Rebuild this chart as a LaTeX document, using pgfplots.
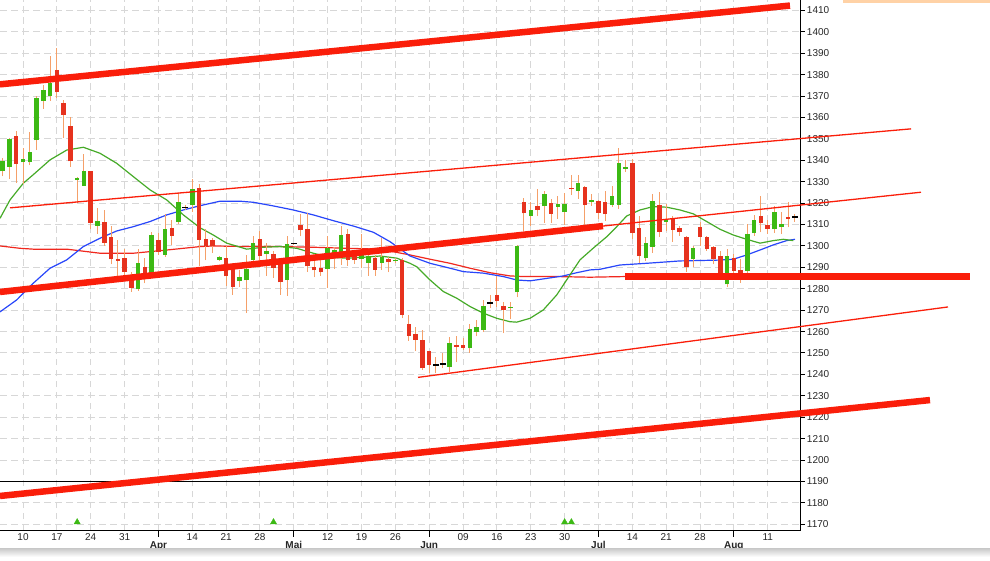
\documentclass[border=0pt]{standalone}
\usepackage{pgfplots}
\pgfplotsset{compat=1.18}
\usepackage{pgfplotstable}
\usepackage{fontspec}
\setmainfont{Liberation Sans}
\definecolor{cgreen}{RGB}{60,185,20}
\definecolor{cred}{RGB}{230,50,30}
\definecolor{cwick}{RGB}{245,160,105}
\definecolor{tline}{RGB}{250,30,10}
\definecolor{magreen}{RGB}{70,170,40}
\definecolor{mablue}{RGB}{40,70,250}
\definecolor{mared}{RGB}{240,40,30}
\definecolor{gridc}{RGB}{215,215,215}

\pgfplotstableread{
x o h l c
-3 1334.8 1341.0 1332.5 1339.5
-2 1337.1 1350.3 1331.2 1350.1
0 1339.0 1345.7 1329.0 1340.7
1 1339.0 1353.0 1337.6 1344.0
2 1349.3 1370.0 1344.9 1369.3
3 1367.6 1375.4 1364.0 1373.0
4 1370.2 1388.6 1367.9 1376.1
8 1331.0 1332.0 1320.0 1331.8
9 1328.2 1343.1 1328.2 1335.1
11 1309.5 1317.9 1305.6 1311.7
17 1279.7 1298.6 1279.0 1292.0
19 1287.2 1306.7 1286.5 1305.1
21 1295.8 1315.0 1295.0 1308.0
23 1311.4 1324.6 1310.3 1320.3
25 1318.9 1331.2 1316.0 1326.7
29 1293.6 1295.5 1293.0 1294.8
32 1283.4 1288.9 1281.0 1285.3
33 1283.9 1296.0 1268.6 1289.4
34 1293.6 1304.8 1290.5 1301.4
36 1296.3 1301.4 1286.0 1297.8
39 1284.2 1304.8 1276.7 1301.0
45 1289.4 1304.5 1280.3 1299.0
46 1294.4 1299.5 1289.2 1298.3
47 1294.4 1309.5 1291.2 1305.3
50 1293.9 1305.8 1289.5 1295.9
51 1292.0 1296.0 1286.0 1295.5
53 1292.0 1303.8 1288.9 1294.8
55 1292.8 1294.5 1292.0 1293.6
63 1243.6 1257.3 1241.3 1254.5
66 1252.2 1263.6 1250.2 1261.1
67 1260.0 1265.5 1257.7 1262.0
68 1260.8 1274.8 1259.7 1272.0
72 1271.0 1274.0 1265.9 1271.7
73 1278.3 1300.6 1276.0 1300.2
75 1313.9 1320.5 1309.5 1316.6
77 1318.6 1325.6 1310.8 1324.5
79 1318.3 1323.3 1312.7 1319.4
80 1315.8 1324.8 1310.0 1319.4
82 1325.6 1333.0 1322.0 1329.2
84 1320.3 1324.3 1318.8 1321.5
87 1319.3 1328.2 1318.1 1323.2
88 1319.3 1345.8 1317.3 1338.9
89 1336.1 1340.0 1334.5 1336.9
92 1294.2 1304.4 1293.0 1301.6
93 1299.7 1324.3 1296.9 1320.9
95 1311.3 1319.6 1307.1 1312.6
99 1293.8 1300.0 1290.2 1298.9
104 1282.0 1298.5 1280.8 1295.3
107 1288.3 1310.2 1287.5 1305.5
108 1306.0 1314.5 1304.7 1312.1
111 1307.9 1318.5 1306.0 1316.0
112 1308.7 1315.7 1305.5 1310.2
}\greentab

\pgfplotstableread{
x o h l c
-1 1351.5 1353.5 1329.6 1338.4
5 1382.4 1392.5 1369.1 1371.8
6 1366.9 1368.3 1350.4 1361.3
7 1356.2 1360.2 1337.1 1339.5
10 1335.1 1335.1 1307.8 1310.9
12 1311.2 1316.8 1300.0 1301.6
13 1304.1 1309.5 1291.4 1293.9
14 1294.1 1302.8 1285.6 1293.2
15 1294.4 1298.6 1283.8 1287.8
16 1286.3 1288.0 1278.6 1280.5
18 1290.2 1294.4 1282.5 1284.6
20 1302.8 1305.9 1295.8 1297.3
22 1308.4 1312.2 1300.5 1304.7
26 1326.9 1328.8 1290.5 1303.0
27 1303.4 1307.7 1293.3 1300.2
28 1303.0 1303.5 1296.7 1300.2
30 1294.4 1300.2 1281.4 1285.8
31 1291.6 1292.0 1277.2 1280.6
35 1303.4 1306.9 1290.5 1295.2
37 1296.3 1297.8 1285.0 1289.7
38 1293.9 1294.2 1277.2 1283.0
41 1310.0 1314.7 1304.5 1307.3
42 1308.0 1315.5 1288.0 1290.5
43 1290.0 1293.6 1285.3 1288.6
44 1289.7 1293.6 1286.1 1287.7
48 1305.8 1307.7 1290.8 1293.3
49 1295.2 1296.7 1291.7 1293.3
52 1294.4 1296.0 1286.0 1288.9
54 1293.9 1295.0 1287.7 1292.3
56 1293.3 1294.4 1266.2 1267.8
57 1263.6 1267.8 1255.8 1258.1
58 1258.9 1262.3 1250.9 1256.1
59 1256.1 1260.8 1242.0 1242.8
60 1250.9 1251.0 1240.5 1244.4
64 1253.8 1258.1 1245.9 1252.8
65 1253.8 1256.9 1251.4 1252.5
70 1277.2 1285.8 1271.7 1274.5
71 1272.0 1274.0 1259.2 1270.2
74 1320.5 1322.5 1306.9 1315.2
76 1318.6 1326.4 1313.9 1317.0
78 1320.2 1321.7 1310.8 1315.0
81 1327.3 1333.0 1323.8 1326.6
83 1327.7 1328.0 1310.0 1319.1
85 1321.2 1321.5 1312.6 1315.4
86 1320.7 1325.9 1311.8 1314.9
90 1338.9 1340.5 1303.2 1306.0
91 1308.2 1314.1 1292.2 1295.3
94 1319.2 1325.1 1304.4 1306.6
96 1313.0 1314.1 1301.9 1307.6
97 1308.3 1309.4 1304.7 1306.3
98 1304.4 1304.6 1287.8 1290.2
100 1309.0 1311.0 1300.0 1304.3
101 1304.4 1304.7 1297.7 1298.5
102 1299.6 1300.0 1291.4 1293.8
103 1295.3 1297.7 1284.0 1286.7
105 1294.2 1296.1 1287.5 1288.3
106 1288.6 1293.8 1282.8 1286.7
109 1313.8 1323.5 1306.3 1310.7
110 1309.7 1312.3 1305.5 1307.9
113 1313.7 1320.4 1308.7 1312.6
}\redtab

\pgfplotstableread{
x o h l c
24 1318.0 1319.0 1317.0 1318.0
40 1301.0 1301.5 1300.5 1301.0
61 1244.4 1248.3 1240.5 1244.4
62 1244.8 1249.8 1242.8 1244.8
69 1273.3 1277.2 1271.0 1273.3
114 1313.5 1314.9 1311.3 1313.5
}\dojitab

\pgfplotsset{
  candle/.style 2 args={draw=none, mark=none, forget plot,
    error bars/.cd, y dir=plus, y explicit, error mark=none,
    error bar style={line width=#1, draw=#2, solid}},
}

\begin{document}
\begin{tikzpicture}
\begin{axis}[
  at={(0pt,0pt)}, anchor=south west,
  scale only axis, width=800pt, height=530pt,
  xmin=-3.4, xmax=114.77, ymin=1167.3, ymax=1414.9,
  clip=false,
  axis line style={draw=none},
  major tick length=0pt,
  grid=major,
  major grid style={gridc, line width=1pt, dash pattern=on 6.5pt off 4.5pt},
  xtick={0,5,...,110},
  xticklabels={10,17,24,31,{\phantom{0}\\[-4pt]\textbf{Apr}},14,21,28,{\phantom{0}\\[-4pt]\textbf{Mai}},12,19,26,{\phantom{0}\\[-4pt]\textbf{Jun}},09,16,23,30,{\phantom{0}\\[-4pt]\textbf{Jul}},14,21,28,{\phantom{0}\\[-4pt]\textbf{Aug}},11},
  xticklabel style={align=center, font=\fontsize{10}{12}\selectfont, text=black!85, inner sep=3pt},
  xticklabel pos=lower,
  ytick={1170,1180,...,1410},
  yticklabels={1170,1180,1190,1200,1210,1220,1230,1240,1250,1260,1270,1280,1290,1300,1310,1320,1330,1340,1350,1360,1370,1380,1390,1400,1410},
  yticklabel pos=right,
  yticklabel style={font=\fontsize{10}{12}\selectfont, text=black!85, xshift=3.4pt},
]
% axis lines
\draw[black, line width=1pt] (rel axis cs:0,0) -- (rel axis cs:1,0) -- (rel axis cs:1,1);
\pgfplotsinvokeforeach{1170,1180,...,1410}{\draw[black, line width=1pt] (axis cs:114.77,#1) -- ++(5pt,0pt);}
\pgfplotsinvokeforeach{20,40,60,85,105}{\draw[black, line width=1pt] (axis cs:#1,1167.3) -- ++(0pt,-7pt);}

% black 1190 line
\addplot[black, line width=1pt] coordinates {(-3.4,1190) (114.77,1190)};

% moving averages
\addplot[mared, line width=1.2pt] coordinates {
(-3.40,1300.0) (-0.44,1298.9) (1.52,1298.5) (6.46,1298.5) (11.37,1296.6) (16.29,1296.6)
(21.23,1298.1) (26.14,1299.7) (28.11,1300.0) (33.04,1299.7) (37.96,1299.7) (42.88,1299.4)
(47.81,1298.9) (52.73,1298.5) (57.16,1295.8) (60.12,1293.8) (63.07,1291.9) (66.03,1289.6)
(68.98,1287.5) (71.94,1286.0) (73.90,1285.7) (78.83,1285.7) (83.75,1285.4) (88.92,1285.7)
(114.0,1285.5)};
\addplot[mablue, line width=1.2pt] coordinates {
(-3.40,1269.2) (-0.93,1274.8) (1.52,1282.6) (3.99,1289.6) (6.46,1293.5) (8.91,1299.7)
(11.37,1303.6) (13.84,1307.0) (16.29,1309.0) (18.76,1311.4) (21.23,1314.5) (23.68,1316.8)
(26.14,1318.8) (28.11,1320.2) (29.10,1320.9) (32.05,1320.9) (34.02,1320.4) (36.97,1318.7)
(39.93,1316.8) (42.88,1314.5) (45.84,1311.8) (48.79,1309.3) (51.75,1306.4) (54.21,1302.0)
(57.16,1295.3) (60.12,1291.9) (63.07,1289.6) (65.04,1288.0) (67.99,1287.3) (70.95,1285.7)
(72.93,1284.1) (74.89,1283.7) (76.85,1284.6) (79.81,1286.0) (81.79,1287.5) (83.75,1288.8)
(85.23,1289.1) (88.18,1291.1) (92.13,1291.9) (97.05,1293.0) (102.95,1293.4) (104.92,1293.8)
(106.90,1295.8) (108.86,1298.1) (110.83,1300.5) (112.81,1302.5) (114.03,1303.1)};
\addplot[magreen, line width=1.2pt] coordinates {
(-3.40,1312.9) (-1.92,1321.5) (0.04,1329.3) (1.48,1333.2) (3.99,1340.2) (6.46,1344.8)
(8.91,1346.1) (11.37,1343.3) (13.84,1338.6) (16.29,1332.4) (18.76,1326.2) (21.23,1321.5)
(23.68,1314.5) (26.14,1308.5) (28.11,1305.1) (30.09,1301.3) (33.04,1298.5) (35.49,1299.4)
(37.96,1299.7) (40.43,1298.9) (42.88,1296.6) (45.35,1294.7) (47.81,1294.3) (50.27,1294.7)
(52.73,1295.3) (55.20,1294.3) (57.16,1291.9) (58.15,1290.3) (60.12,1284.1) (62.08,1278.7)
(64.06,1275.6) (66.03,1271.7) (67.99,1268.6) (69.97,1266.2) (71.94,1264.6) (72.93,1264.4)
(74.89,1266.2) (76.85,1270.1) (78.83,1277.1) (80.80,1286.5) (82.27,1293.5) (84.24,1299.0)
(86.22,1304.3) (87.70,1309.0) (89.17,1314.0) (91.14,1316.8) (93.10,1318.4) (95.08,1318.1)
(97.05,1316.8) (99.01,1315.0) (100.99,1311.4) (102.95,1307.8) (104.92,1305.1) (106.90,1303.1)
(108.86,1301.3) (110.83,1302.5) (112.30,1303.1) (113.78,1302.5)};

% wicks
\addplot[candle={1pt}{cwick}] table[x=x, y=l, y error plus expr=\thisrow{h}-\thisrow{l}] {\greentab};
\addplot[candle={1pt}{cwick}] table[x=x, y=l, y error plus expr=\thisrow{h}-\thisrow{l}] {\redtab};
\addplot[candle={1pt}{cwick}] table[x=x, y=l, y error plus expr=\thisrow{h}-\thisrow{l}] {\dojitab};
% bodies
\addplot[candle={4.5pt}{cgreen}] table[x=x, y=o, y error plus expr=\thisrow{c}-\thisrow{o}] {\greentab};
\addplot[candle={4.5pt}{cred}] table[x=x, y=c, y error plus expr=\thisrow{o}-\thisrow{c}] {\redtab};
\addplot[only marks, mark=-, mark size=3pt, mark options={line width=1.3pt, draw=black}] table[x=x, y=o] {\dojitab};

% trend lines
\addplot[tline, line width=6.5pt] coordinates {(-3.40,1375.5) (113.29,1412.3)};
\addplot[tline, line width=6.5pt] coordinates {(-3.40,1278.5) (85.67,1309.3)};
\addplot[tline, line width=1.3pt] coordinates {(85.67,1309.3) (132.64,1325.1)};
\addplot[tline, line width=6.5pt] coordinates {(-3.40,1183.2) (133.97,1228.0)};
\addplot[tline, line width=7pt] coordinates {(88.92,1285.7) (139.88,1285.7)};
\addplot[tline, line width=1.3pt] coordinates {(-1.92,1317.8) (131.17,1354.7)};
\addplot[tline, line width=1.3pt] coordinates {(58.35,1238.6) (136.63,1271.5)};

% signal markers
\addplot[only marks, mark=triangle*, mark size=3.5pt, mark options={draw=cgreen, fill=cgreen}] coordinates {(8,1171.0) (37,1171.0) (80,1171.0) (81,1171.0)};
\end{axis}
\shade[top color=black!22, bottom color=white] (0pt,-27pt) rectangle (990pt,-18pt);
\fill[orange!35] (843pt,527pt) rectangle (990pt,530pt);
\pgfresetboundingbox
\path[use as bounding box] (0pt,-30pt) rectangle (990pt,530pt);
\end{tikzpicture}
\end{document}
